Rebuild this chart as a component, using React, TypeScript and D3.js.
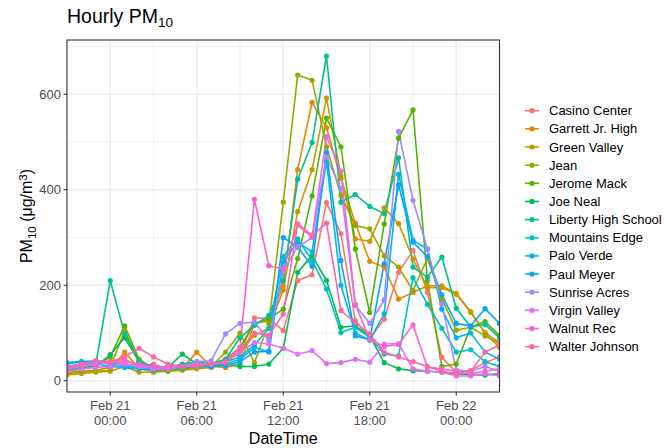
import React from "react";
import * as d3 from "d3";

const timeLabels = [
  "2019-02-20 21:00", "2019-02-20 22:00", "2019-02-20 23:00",
  "2019-02-21 00:00", "2019-02-21 01:00", "2019-02-21 02:00", "2019-02-21 03:00",
  "2019-02-21 04:00", "2019-02-21 05:00", "2019-02-21 06:00", "2019-02-21 07:00",
  "2019-02-21 08:00", "2019-02-21 09:00", "2019-02-21 10:00", "2019-02-21 11:00",
  "2019-02-21 12:00", "2019-02-21 13:00", "2019-02-21 14:00", "2019-02-21 15:00",
  "2019-02-21 16:00", "2019-02-21 17:00", "2019-02-21 18:00", "2019-02-21 19:00",
  "2019-02-21 20:00", "2019-02-21 21:00", "2019-02-21 22:00", "2019-02-21 23:00",
  "2019-02-22 00:00", "2019-02-22 01:00", "2019-02-22 02:00", "2019-02-22 03:00",
];

const sites = [
  "Casino Center", "Garrett Jr. High", "Green Valley", "Jean", "Jerome Mack",
  "Joe Neal", "Liberty High School", "Mountains Edge", "Palo Verde", "Paul Meyer",
  "Sunrise Acres", "Virgin Valley", "Walnut Rec", "Walter Johnson",
];

const siteColors = [
  "#F8766D", "#E38900", "#C49A00", "#99A800", "#53B400", "#00BC56", "#00C094",
  "#00BFC4", "#00B6EB", "#06A4FF", "#A58AFF", "#DF70F8", "#FB61D7", "#FF66A8",
];

const casinoCenter = [25, 30, 35, 40, 45, 30, 35, 25, 30, 35, 30, 45, 55, 132, 130, 105, 210, 222, 373, 308, 126, 88, 129, 227, 273, 185, 49, 17, 22, 38, 50];
const garrettJrHigh = [15, 18, 20, 22, 60, 25, 20, 22, 25, 60, 30, 28, 35, 120, 125, 199, 442, 583, 530, 424, 330, 250, 238, 171, 185, 199, 199, 183, 145, 99, 70];
const greenValley = [12, 15, 18, 20, 30, 18, 18, 20, 22, 25, 28, 40, 60, 95, 110, 190, 354, 442, 592, 429, 297, 292, 362, 329, 255, 195, 195, 181, 143, 101, 80];
const jean = [18, 20, 22, 28, 105, 40, 22, 20, 25, 28, 30, 60, 100, 38, 120, 374, 640, 629, 490, 388, 325, 318, 262, 238, 189, 256, 172, 106, 112, 94, 78];
const jeromeMack = [20, 25, 30, 50, 115, 45, 25, 22, 25, 30, 35, 45, 70, 120, 130, 150, 256, 387, 550, 490, 276, 143, 328, 508, 567, 210, 30, 35, 112, 124, 95];
const joeNeal = [22, 28, 30, 55, 90, 40, 30, 28, 56, 35, 30, 35, 30, 30, 35, 68, 227, 262, 210, 112, 115, 94, 38, 25, 21, 20, 18, 15, 12, 12, 15];
const libertyHighSchool = [30, 35, 35, 210, 98, 40, 30, 28, 35, 40, 35, 45, 90, 116, 137, 209, 422, 499, 680, 374, 390, 365, 350, 467, 238, 217, 259, 152, 113, 118, 90];
const mountainsEdge = [35, 40, 38, 35, 30, 28, 25, 25, 30, 35, 32, 40, 50, 75, 110, 260, 297, 252, 192, 101, 112, 91, 56, 52, 216, 160, 110, 60, 65, 40, 30];
const paloVerde = [28, 32, 35, 30, 28, 25, 22, 25, 28, 30, 30, 35, 45, 70, 60, 250, 290, 270, 460, 200, 100, 85, 140, 432, 294, 276, 150, 90, 100, 60, 45];
const paulMeyer = [38, 40, 42, 38, 35, 30, 28, 30, 32, 35, 30, 32, 40, 60, 62, 300, 280, 240, 478, 252, 94, 86, 245, 410, 290, 260, 180, 120, 115, 151, 120];
const sunriseAcres = [25, 30, 35, 40, 35, 30, 30, 28, 30, 40, 42, 98, 120, 123, 85, 230, 280, 300, 468, 403, 158, 120, 169, 522, 378, 276, 160, 23, 20, 30, 20];
const virginValley = [20, 25, 28, 30, 35, 30, 25, 25, 30, 30, 35, 40, 60, 80, 77, 68, 56, 63, 36, 38, 45, 39, 77, 78, 25, 20, 18, 10, 10, 15, 10];
const walnutRec = [30, 32, 35, 38, 40, 35, 30, 28, 30, 35, 35, 40, 70, 380, 241, 234, 326, 301, 511, 439, 160, 86, 72, 76, 117, 29, 25, 20, 15, 20, 25];
const walterJohnson = [28, 35, 42, 40, 50, 68, 50, 35, 30, 32, 35, 38, 65, 100, 95, 140, 329, 304, 330, 147, 122, 98, 60, 50, 40, 30, 20, 15, 20, 60, 75];

const seriesValues = [
  casinoCenter, garrettJrHigh, greenValley, jean, jeromeMack, joeNeal,
  libertyHighSchool, mountainsEdge, paloVerde, paulMeyer, sunriseAcres,
  virginValley, walnutRec, walterJohnson,
];

const yMajorTicks = [0, 200, 400, 600];
const yMinorTicks = [100, 300, 500, 700];

const FONT = "'Liberation Sans', Arial, Helvetica, sans-serif";

export default function App() {
  const W = 667;
  const H = 448;
  const pL = 67, pR = 499.5, pT = 40, pB = 392;

  const parse = d3.timeParse("%Y-%m-%d %H:%M");
  const times = timeLabels.map((t) => parse(t) as Date);

  const x = d3.scaleTime().domain([times[0], times[times.length - 1]]).range([pL, pR]);

  const all = seriesValues.flat();
  const [mn, mx] = d3.extent(all) as [number, number];
  const pad = (mx - mn) * 0.05;
  const y = d3.scaleLinear().domain([mn - pad, mx + pad]).range([pB, pT]);

  const xMajor = x.ticks(d3.timeHour.every(6) as any);
  const xMinorAll = x.ticks(d3.timeHour.every(3) as any);
  const xMinor = xMinorAll.filter((d) => !xMajor.some((m) => +m === +d));

  const fmtDay = d3.timeFormat("%b %d");
  const fmtHour = d3.timeFormat("%H:%M");

  const line = d3
    .line<number>()
    .x((_, i) => x(times[i]))
    .y((v) => y(v));

  const legendX = 525;
  const legendY0 = 110.7;
  const legendStep = 18.15;
  const tickFs = 13;

  return (
    <svg
      width={W}
      height={H}
      style={{ position: "absolute", left: 0, top: 0, background: "#fff" }}
      fontFamily={FONT}
    >
      <defs>
        <clipPath id="panel">
          <rect x={pL} y={pT} width={pR - pL} height={pB - pT} />
        </clipPath>
      </defs>
      <rect x={0} y={0} width={W} height={H} fill="#fff" />

      {/* title */}
      <text x={pL} y={23} fontSize={19.5} fill="#000">
        Hourly PM
        <tspan fontSize={13.5} dy={4}>10</tspan>
      </text>

      {/* grid */}
      <g>
        {yMinorTicks.map((t) =>
          y(t) >= pT ? (
            <line key={"ym" + t} x1={pL} x2={pR} y1={y(t)} y2={y(t)} stroke="#EBEBEB" strokeWidth={0.7} />
          ) : null
        )}
        {xMinor.map((t) => (
          <line key={"xm" + +t} x1={x(t)} x2={x(t)} y1={pT} y2={pB} stroke="#EBEBEB" strokeWidth={0.7} />
        ))}
        {yMajorTicks.map((t) => (
          <line key={"yM" + t} x1={pL} x2={pR} y1={y(t)} y2={y(t)} stroke="#EBEBEB" strokeWidth={1.3} />
        ))}
        {xMajor.map((t) => (
          <line key={"xM" + +t} x1={x(t)} x2={x(t)} y1={pT} y2={pB} stroke="#EBEBEB" strokeWidth={1.3} />
        ))}
      </g>

      {/* data */}
      <g clipPath="url(#panel)">
        {seriesValues.map((vals, s) => (
          <path key={"l" + s} d={line(vals) || ""} fill="none" stroke={siteColors[s]} strokeWidth={1.6} strokeLinejoin="round" />
        ))}
        {seriesValues.map((vals, s) => (
          <g key={"p" + s} fill={siteColors[s]}>
            {vals.map((v, i) => (
              <circle key={i} cx={x(times[i])} cy={y(v)} r={2.6} />
            ))}
          </g>
        ))}
      </g>

      {/* panel border */}
      <rect x={pL} y={pT} width={pR - pL} height={pB - pT} fill="none" stroke="#333333" strokeWidth={1.1} />

      {/* y axis */}
      <g>
        {yMajorTicks.map((t) => (
          <g key={"yt" + t}>
            <line x1={pL - 3.5} x2={pL} y1={y(t)} y2={y(t)} stroke="#333333" strokeWidth={1.1} />
            <text x={pL - 6} y={y(t)} dy="0.35em" textAnchor="end" fontSize={tickFs} fill="#4D4D4D">
              {t}
            </text>
          </g>
        ))}
      </g>

      {/* x axis */}
      <g>
        {xMajor.map((t) => (
          <g key={"xt" + +t}>
            <line x1={x(t)} x2={x(t)} y1={pB} y2={pB + 3.5} stroke="#333333" strokeWidth={1.1} />
            <text x={x(t)} y={409.5} textAnchor="middle" fontSize={tickFs} fill="#4D4D4D">
              {fmtDay(t)}
            </text>
            <text x={x(t)} y={424.5} textAnchor="middle" fontSize={tickFs} fill="#4D4D4D">
              {fmtHour(t)}
            </text>
          </g>
        ))}
      </g>

      {/* axis titles */}
      <text x={(pL + pR) / 2} y={444} textAnchor="middle" fontSize={16} fill="#000">
        DateTime
      </text>
      <text
        transform={`translate(32,${(pT + pB) / 2}) rotate(-90)`}
        textAnchor="middle"
        fontSize={16}
        fill="#000"
      >
        PM<tspan fontSize={11.5} dy={3.5}>10</tspan>
        <tspan dy={-3.5}> (μg/m</tspan>
        <tspan fontSize={11.5} dy={-5}>3</tspan>
        <tspan dy={5}>)</tspan>
      </text>

      {/* legend */}
      <g>
        {sites.map((name, k) => {
          const cy = legendY0 + k * legendStep;
          return (
            <g key={name}>
              <line x1={legendX} x2={legendX + 14} y1={cy} y2={cy} stroke={siteColors[k]} strokeWidth={1.6} />
              <circle cx={legendX + 7} cy={cy} r={2.6} fill={siteColors[k]} />
              <text x={549} y={cy} dy="0.35em" fontSize={13} fill="#000">
                {name}
              </text>
            </g>
          );
        })}
      </g>
    </svg>
  );
}
